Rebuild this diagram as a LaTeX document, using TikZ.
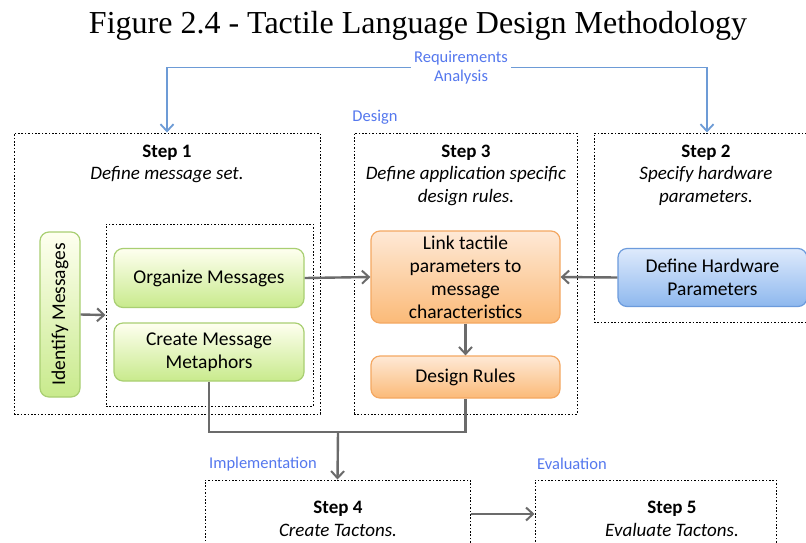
\documentclass[tikz,border=0pt]{standalone}
\usepackage{fontspec}
\setmainfont{Carlito}
\newfontfamily\titlefont{Liberation Serif}
\usetikzlibrary{arrows.meta,positioning}
\definecolor{phaseblue}{HTML}{5578EE}
\definecolor{reqline}{HTML}{6D9BD6}
\definecolor{flowgray}{HTML}{6B6B6B}
\definecolor{greenline}{HTML}{A9CF72}
\definecolor{orangeline}{HTML}{F4A862}
\definecolor{blueline}{HTML}{6C9BDC}
\tikzset{
  stepframe/.style={draw, line width=1pt, dash pattern=on 1.6pt off 1.8pt},
  stepbox/.style={rounded corners=9pt, line width=1.2pt, align=center,
    font=\fontsize{19.5}{23}\selectfont, inner sep=0pt},
  greenbox/.style={stepbox, draw=greenline, top color=green!4!yellow!6, bottom color={rgb,255:red,200;green,234;blue,140}},
  orangebox/.style={stepbox, draw=orangeline, top color={rgb,255:red,254;green,233;blue,214}, bottom color={rgb,255:red,251;green,186;blue,120}},
  bluebox/.style={stepbox, draw=blueline, top color={rgb,255:red,222;green,234;blue,252}, bottom color={rgb,255:red,142;green,184;blue,238}},
  phase/.style={text=phaseblue, font=\fontsize{16.5}{19}\selectfont, align=center},
  steptext/.style={align=center, font=\fontsize{19}{22.5}\selectfont},
  flow/.style={draw=flowgray, line width=2.4pt, -{Straight Barb[length=7pt,width=13pt,line width=2pt]}},
  reqflow/.style={draw=reqline, line width=1.8pt, -{Straight Barb[length=7pt,width=13pt,line width=1.8pt]}},
}
\begin{document}
\begin{tikzpicture}[x=1pt, y=-1pt]
		\useasboundingbox (0, 0) rectangle (806, 542);
		\clip (0, 0) rectangle (806, 542);
		\fill [white] (0, 0) rectangle (806, 542);
		% title
		\node (title) at (418, 26) {\titlefont\fontsize{32}{36}\selectfont Figure 2.4 - Tactile Language Design Methodology};
		% step frames
		\node [stepframe, minimum width=306, minimum height=281] (step1) at (167, 273.5) {};
		\node [stepframe, minimum width=223, minimum height=281] (step3) at (465.5, 273.5) {};
		\node [stepframe, minimum width=226, minimum height=189] (step2) at (707, 227.5) {};
		\node [stepframe, minimum width=207, minimum height=182] (inner) at (209.5, 315) {};
		\node [stepframe, minimum width=265, minimum height=80] (step4) at (337.5, 520) {};
		\node [stepframe, minimum width=241, minimum height=80] (step5) at (655.5, 520) {};
		% step texts
		\node [steptext] (step1txt) at (167, 164) {\textbf{Step 1}\\\textit{Define message set.}};
		\node [steptext] (step3txt) at (466, 175) {\textbf{Step 3}\\\textit{Define application specific}\\\textit{design rules.}};
		\node [steptext] (step2txt) at (706, 175) {\textbf{Step 2}\\\textit{Specify hardware}\\\textit{parameters.}};
		\node [steptext] (step4txt) at (338, 519) {\textbf{Step 4}\\\textit{Create Tactons.}};
		\node [steptext] (step5txt) at (672, 519) {\textbf{Step 5}\\\textit{Evaluate Tactons.}};
		% phase labels
		\node [phase] (req) at (461, 67.5) {Requirements\\Analysis};
		\node [phase] (design) at (375, 117) {Design};
		\node [phase] (impl) at (263, 464) {Implementation};
		\node [phase] (eval) at (572, 464) {Evaluation};
		% boxes
		\node [greenbox, rotate=90, minimum width=165, minimum height=40] (identify) at (60, 314.5) {Identify Messages};
		\node [greenbox, minimum width=190, minimum height=59] (organize) at (209, 278) {Organize Messages};
		\node [greenbox, minimum width=190, minimum height=58] (metaphor) at (209, 352) {Create Message\\Metaphors};
		\node [orangebox, minimum width=189, minimum height=92] (link) at (465.5, 277) {Link tactile\\parameters to\\message\\characteristics};
		\node [orangebox, minimum width=189, minimum height=42] (rules) at (465.5, 377) {Design Rules};
		\node [bluebox, minimum width=189, minimum height=58] (hardware) at (712.5, 277.5) {Define Hardware\\Parameters};
		\coordinate (merge) at (338, 432);
		% arrows
		\draw [reqflow] (req.west) -| (step1.north);
		\draw [reqflow] (req.east) -| (step2.north);
		\draw [flow] (identify.south) -- (inner.west);
		\draw [flow] (organize.east) -- (link.west);
		\draw [flow] (hardware.west) -- (link.east);
		\draw [flow] (link.south) -- (rules.north);
		\draw [draw=flowgray, line width=2.4pt] (metaphor.south) |- (merge) -| (rules.south);
		\draw [flow] (merge) -- (step4.north);
		\draw [flow] (step4.east |- 0, 514) -- (step5.west |- 0, 514);
	\end{tikzpicture}
\end{document}
